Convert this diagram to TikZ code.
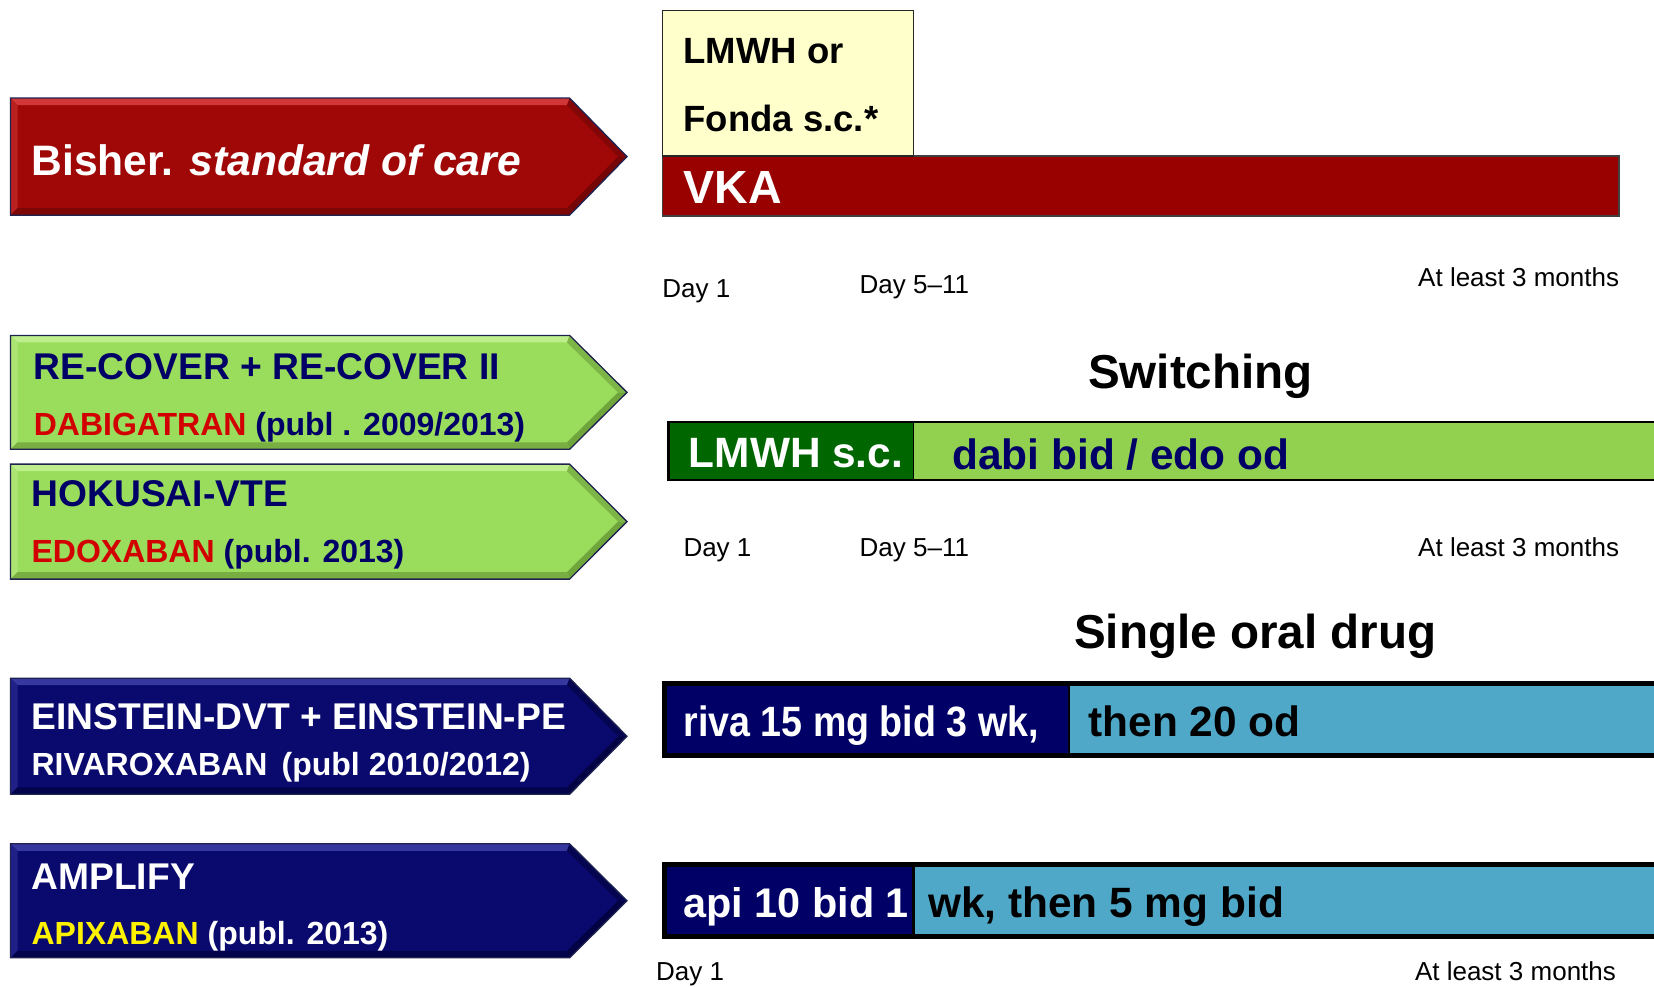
\documentclass[tikz,border=0pt]{standalone}
\usepackage{fontspec}
\setmainfont{Liberation Sans}
\usetikzlibrary{calc}
\definecolor{redarrow}{RGB}{160,8,8}
\definecolor{redlight}{RGB}{210,55,55}
\definecolor{reddark}{RGB}{110,5,5}
\definecolor{vka}{RGB}{153,0,0}
\definecolor{lmwhy}{RGB}{255,255,204}
\definecolor{greenarrow}{RGB}{154,220,92}
\definecolor{greenlight}{RGB}{190,238,140}
\definecolor{greendark}{RGB}{105,155,55}
\definecolor{barlgreen}{RGB}{146,208,80}
\definecolor{bardgreen}{RGB}{0,102,0}
\definecolor{navyarrow}{RGB}{10,10,110}
\definecolor{navylight}{RGB}{55,55,160}
\definecolor{navydark}{RGB}{0,0,60}
\definecolor{navy}{RGB}{0,0,102}
\definecolor{ltblue}{RGB}{80,168,200}
\definecolor{redtext}{RGB}{210,0,0}
\definecolor{edgecol}{RGB}{30,35,80}
\newcommand{\fs}[1]{\fontsize{#1}{#1}\selectfont}
% bevelled arrow: #1 top y, #2 bottom y, #3 base, #4 light, #5 dark
\newcommand{\bevarrow}[5]{%
  \pgfmathsetmacro{\ym}{(#1+#2)/2}%
  \fill[#3] (10.5,#1) -- (569.6,#1) -- (627,\ym) -- (569.6,#2) -- (10.5,#2) -- cycle;
  \fill[#4] (10.5,#1) -- (569.6,#1) -- (567,#1+7) -- (17.5,#1+7) -- cycle;
  \fill[#4!50!#3] (10.5,#1) -- (17.5,#1+7) -- (17.5,#2-7) -- (10.5,#2) -- cycle;
  \fill[#5!60!#3] (569.6,#1) -- (627,\ym) -- (618,\ym) -- (567,#1+7) -- cycle;
  \fill[#5!85!#3] (627,\ym) -- (569.6,#2) -- (567,#2-7) -- (618,\ym) -- cycle;
  \fill[#5!70!#3] (569.6,#2) -- (10.5,#2) -- (17.5,#2-7) -- (567,#2-7) -- cycle;
  \draw[edgecol, line width=1.3, line join=miter] (10.5,#1) -- (569.6,#1) -- (627,\ym) -- (569.6,#2) -- (10.5,#2) -- cycle;
}
\tikzset{
  txt/.style={anchor=base west, inner sep=0pt, outer sep=0pt},
  txtc/.style={anchor=base, inner sep=0pt, outer sep=0pt},
  txte/.style={anchor=base east, inner sep=0pt, outer sep=0pt},
  daylbl/.style={font=\fs{26}},
  head/.style={font=\bfseries\fs{47.6}},
  big/.style={font=\bfseries\fs{37.2}},
  small/.style={font=\bfseries\fs{32}},
  bartxt/.style={font=\bfseries\fs{42.4}},
}
\begin{document}
\begin{tikzpicture}[x=1pt,y=-1pt]
\useasboundingbox (0,0) rectangle (1654,987);
\fill[white] (0,0) rectangle (1654,987);
\clip (0,0) rectangle (1654,987);

% ---------- row 1: standard of care ----------
\bevarrow{98.1}{215.2}{redarrow}{redlight}{reddark}
\node[txt, text=white, font=\bfseries\fs{42.6}] (soc) at (31.6,175.1) {Bisher. \textit{standard of care}};

\filldraw[fill=vka, draw=black!75, line width=1.6] (662.4,156.1) rectangle (1619.1,216.2);
\filldraw[fill=lmwhy, draw=black!85, line width=1.6] (662.4,10.5) rectangle (913.5,156.1);
\node[txt, font=\bfseries\fs{36.5}] (lmwh1) at (683.5,63.3) {LMWH or};
\node[txt, font=\bfseries\fs{36.5}] (lmwh2) at (683.5,131.9) {Fonda s.c.*};
\node[txt, text=white, font=\bfseries\fs{46.5}] (vka) at (683.5,203.6) {VKA};

\node[txt, daylbl] (d1a) at (662.4,297.5) {Day 1};
\node[txt, daylbl] (d5a) at (859.7,293.2) {Day 5–11};
\node[txte, daylbl] (m3a) at (1619.1,286.9) {At least 3 months};

% ---------- row 2: switching ----------
\bevarrow{335.4}{449.3}{greenarrow}{greenlight}{greendark}
\node[txt, big, text=navy] (rec1) at (33.8,379.7) {RE-COVER + RE-COVER II};
\node[txt, small, text=navy] (rec2) at (33.8,435.6) {\textcolor{redtext}{DABIGATRAN} (publ . 2009/2013)};

\bevarrow{464.1}{579.1}{greenarrow}{greenlight}{greendark}
\node[txt, big, text=navy] (hok1) at (31.6,506.3) {HOKUSAI-VTE};
\node[txt, small, text=navy] (hok2) at (31.6,562.2) {\textcolor{redtext}{EDOXABAN} (publ. 2013)};

\node[txtc, head] (sw) at (1200.4,388.2) {Switching};

\fill[bardgreen] (668.7,421.9) rectangle (913.5,479.9);
\fill[barlgreen] (913.5,421.9) rectangle (1660,479.9);
\draw[black, line width=2.5] (1660,421.9) -- (668.7,421.9) -- (668.7,479.9) -- (1660,479.9);
\draw[black, line width=1.5] (913.5,421.9) -- (913.5,479.9);
\node[txt, bartxt, text=white] (swl) at (688.8,467.3) {LMWH s.c.};
\node[txt, bartxt, text=navy] (swr) at (952.5,469.4) {dabi bid / edo od};

\node[txt, daylbl] (d1b) at (683.5,556.9) {Day 1};
\node[txt, daylbl] (d5b) at (859.7,556.9) {Day 5–11};
\node[txte, daylbl] (m3b) at (1619.1,556.9) {At least 3 months};

% ---------- row 3: single oral drug ----------
\node[txtc, head] (sod) at (1255.2,648.7) {Single oral drug};

\bevarrow{678.2}{794.3}{navyarrow}{navylight}{navydark}
\node[txt, big, text=white] (ein1) at (31.6,729.9) {EINSTEIN-DVT + EINSTEIN-PE};
\node[txt, small, text=white] (ein2) at (31.6,775.3) {RIVAROXABAN\, (publ 2010/2012)};

\fill[navy] (664.5,683.5) rectangle (1068.5,755.2);
\fill[ltblue] (1068.5,683.5) rectangle (1660,755.2);
\draw[black, line width=5] (1660,683.5) -- (664.5,683.5) -- (664.5,755.2) -- (1660,755.2);
\draw[black, line width=2] (1068.5,683.5) -- (1068.5,755.2);
\node[txt, bartxt, text=white] (rivl) at (683.5,736.2) {\scalebox{0.887}[1]{riva 15 mg bid 3 wk,}};
\node[txt, bartxt] (rivr) at (1088.5,736.2) {then 20 od};

\bevarrow{843.8}{957.8}{navyarrow}{navylight}{navydark}
\node[txt, big, text=white] (amp1) at (31.6,889.2) {AMPLIFY};
\node[txt, small, text=white] (amp2) at (31.6,944) {\textcolor{yellow}{APIXABAN} (publ. 2013)};

\fill[navy] (664.5,864.9) rectangle (913.5,936.7);
\fill[ltblue] (913.5,864.9) rectangle (1660,936.7);
\draw[black, line width=5] (1660,864.9) -- (664.5,864.9) -- (664.5,936.7) -- (1660,936.7);
\draw[black, line width=2.5] (913.5,864.9) -- (913.5,936.7);
\node[txt, font=\bfseries\fs{41.4}, text=white] (apil) at (683.5,917.7) {api 10 bid 1};
\node[txt, bartxt] (apir) at (928.2,917.7) {wk, then 5 mg bid};

\node[txt, daylbl] (d1c) at (656.1,980.5) {Day 1};
\node[txte, daylbl] (m3c) at (1615.9,980.5) {At least 3 months};
\end{tikzpicture}
\end{document}
